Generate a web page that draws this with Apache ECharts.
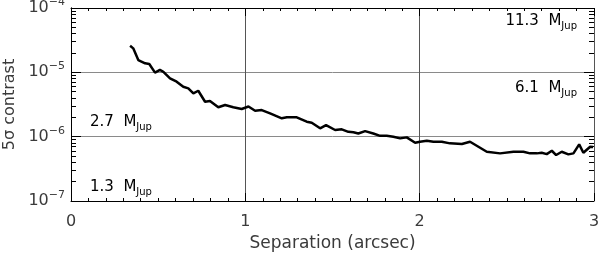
<!DOCTYPE html>
<html>
<head>
<meta charset="utf-8">
<script src="https://cdn.jsdelivr.net/npm/echarts@6/dist/echarts.min.js"></script>
<style>
html,body{margin:0;padding:0;background:#fff;}
#contrast-curve{width:600px;height:254px;}
</style>
</head>
<body>
<div id="contrast-curve"></div>
<script>
/*separation (arcsec) and 5 sigma contrast*/
const sepArcsec = [0.339,0.357,0.386,0.425,0.449,0.482,0.510,0.530,0.568,0.606,
    0.644,0.673,0.702,0.730,0.769,0.797,0.845,0.884,0.931,0.979,
    1.018,1.056,1.094,1.142,1.209,1.238,1.295,1.352,1.381,1.429,
    1.463,1.515,1.553,1.591,1.620,1.648,1.687,1.734,1.773,1.811,
    1.849,1.888,1.926,1.974,2.002,2.041,2.079,2.127,2.174,2.242,
    2.289,2.337,2.385,2.461,2.538,2.595,2.633,2.672,2.700,2.729,
    2.758,2.783,2.815,2.853,2.882,2.915,2.939,2.978,2.995];
const contrast5s = [2.59e-5,2.36e-5,1.55e-5,1.38e-5,1.35e-5,9.9e-6,1.09e-5,1.02e-5,8.07e-6,7.15e-6,
    5.97e-6,5.64e-6,4.71e-6,5.17e-6,3.49e-6,3.58e-6,2.86e-6,3.10e-6,2.86e-6,2.69e-6,
    2.94e-6,2.53e-6,2.59e-6,2.30e-6,1.93e-6,2.00e-6,2.00e-6,1.71e-6,1.65e-6,1.35e-6,
    1.51e-6,1.27e-6,1.30e-6,1.19e-6,1.17e-6,1.12e-6,1.22e-6,1.12e-6,1.03e-6,1.03e-6,
    9.96e-7,9.41e-7,9.75e-7,8.04e-7,8.33e-7,8.63e-7,8.33e-7,8.33e-7,7.87e-7,7.67e-7,
    8.33e-7,6.97e-7,5.82e-7,5.50e-7,5.82e-7,5.82e-7,5.50e-7,5.50e-7,5.62e-7,5.36e-7,
    6.04e-7,5.18e-7,5.82e-7,5.31e-7,5.50e-7,7.59e-7,5.62e-7,6.97e-7,6.89e-7];

/*log axis ticks*/
const decadeTicks = [1e-7,1e-6,1e-5,1e-4];
const minorTicksY = [2e-7,3e-7,4e-7,5e-7,6e-7,7e-7,8e-7,9e-7,
    2e-6,3e-6,4e-6,5e-6,6e-6,7e-6,8e-6,9e-6,
    2e-5,3e-5,4e-5,5e-5,6e-5,7e-5,8e-5,9e-5];

/*planet mass annotations*/
const massLabels = ['11.3','6.1','2.7','1.3'];

const font = "'DejaVu Sans', 'Liberation Sans', sans-serif";
const ink = '#3a3a3a';

function expLabel(v){
    let e = Math.round(Math.log10(v));
    return '{b|10}{e|' + (e < 0 ? '\u2212' + (-e) : e) + '}';
}
function massText(m){
    return '{m|' + m + '  M}{s|Jup}';
}
const massRich = {
    m:{fontSize:15,fontFamily:font,color:ink},
    s:{fontSize:10,fontFamily:font,color:ink,padding:[9,0,0,0]}
};

/*tick-only axes, in decade exponent units*/
let tickAxis = function(pos, ticks, len){
    return {
        type:'value',
        min:-7,
        max:-4,
        position:pos,
        axisLine:{show:false},
        axisTick:{show:true,inside:true,length:len,
            customValues:ticks.map(v=>Math.log10(v)),
            lineStyle:{color:'#000'}},
        axisLabel:{show:false},
        splitLine:{show:false}
    };
};

let yLeft = {
    type:'log',
    logBase:10,
    min:1e-7,
    max:1e-4,
    interval:1,
    position:'left',
    axisLine:{show:true,lineStyle:{color:'#000',width:1}},
    axisTick:{show:false},
    axisLabel:{
        show:true,
        margin:6,
        customValues:decadeTicks,
        formatter:expLabel,
        rich:{
            b:{fontSize:16,fontFamily:font,color:ink},
            e:{fontSize:11,fontFamily:font,color:ink,padding:[0,0,12,0]}
        }
    },
    splitLine:{show:true,lineStyle:{color:'#8a8a8a',width:1}},
    name:'5\u03c3 contrast',
    nameLocation:'middle',
    nameGap:47,
    nameTextStyle:{fontSize:16,fontFamily:font,color:ink}
};
let yRight = {
    type:'log',
    logBase:10,
    min:1e-7,
    max:1e-4,
    position:'right',
    axisLine:{show:true,lineStyle:{color:'#000',width:1}},
    axisTick:{show:false},
    axisLabel:{show:false},
    splitLine:{show:false}
};

let xCommon = function(pos){
    return {
        type:'value',
        min:0,
        max:3,
        interval:1,
        position:pos,
        axisLine:{show:true,onZero:false,lineStyle:{color:'#000',width:1}},
        axisTick:{show:true,inside:true,length:8,lineStyle:{color:'#000'}},
        minorTick:{show:true,splitNumber:10,length:3,lineStyle:{color:'#000'}},
        axisLabel:{show:false},
        splitLine:{show:false}
    };
};
let xBottom = xCommon('bottom');
xBottom.axisLabel = {show:true,margin:13,fontSize:16,fontFamily:font,color:ink};
xBottom.splitLine = {show:true,lineStyle:{color:'#555',width:1}};
xBottom.name = 'Separation (arcsec)';
xBottom.nameLocation = 'middle';
xBottom.nameGap = 33;
xBottom.nameTextStyle = {fontSize:17,fontFamily:font,color:ink};

let chart = echarts.init(document.getElementById('contrast-curve'));
let option = {
    animation:false,
    backgroundColor:'#fff',
    grid:{left:71,right:6,top:8,bottom:53,outerBoundsMode:'none'},
    xAxis:[xBottom, xCommon('top')],
    yAxis:[yLeft, yRight,
        tickAxis('left', decadeTicks, 10), tickAxis('left', minorTicksY, 5),
        tickAxis('right', decadeTicks, 10), tickAxis('right', minorTicksY, 5)],
    series:[{
        type:'line',
        xAxisIndex:0,
        yAxisIndex:0,
        showSymbol:false,
        lineStyle:{color:'#000',width:2.5},
        data:sepArcsec.map((x,i)=>[x,contrast5s[i]])
    }],
    graphic:[
        {type:'text',right:23,top:14,style:{text:massText(massLabels[0]),rich:massRich}},
        {type:'text',right:23,top:81,style:{text:massText(massLabels[1]),rich:massRich}},
        {type:'text',left:90,top:115,style:{text:massText(massLabels[2]),rich:massRich}},
        {type:'text',left:90,top:180,style:{text:massText(massLabels[3]),rich:massRich}}
    ]
};
chart.setOption(option);
</script>
</body>
</html>
